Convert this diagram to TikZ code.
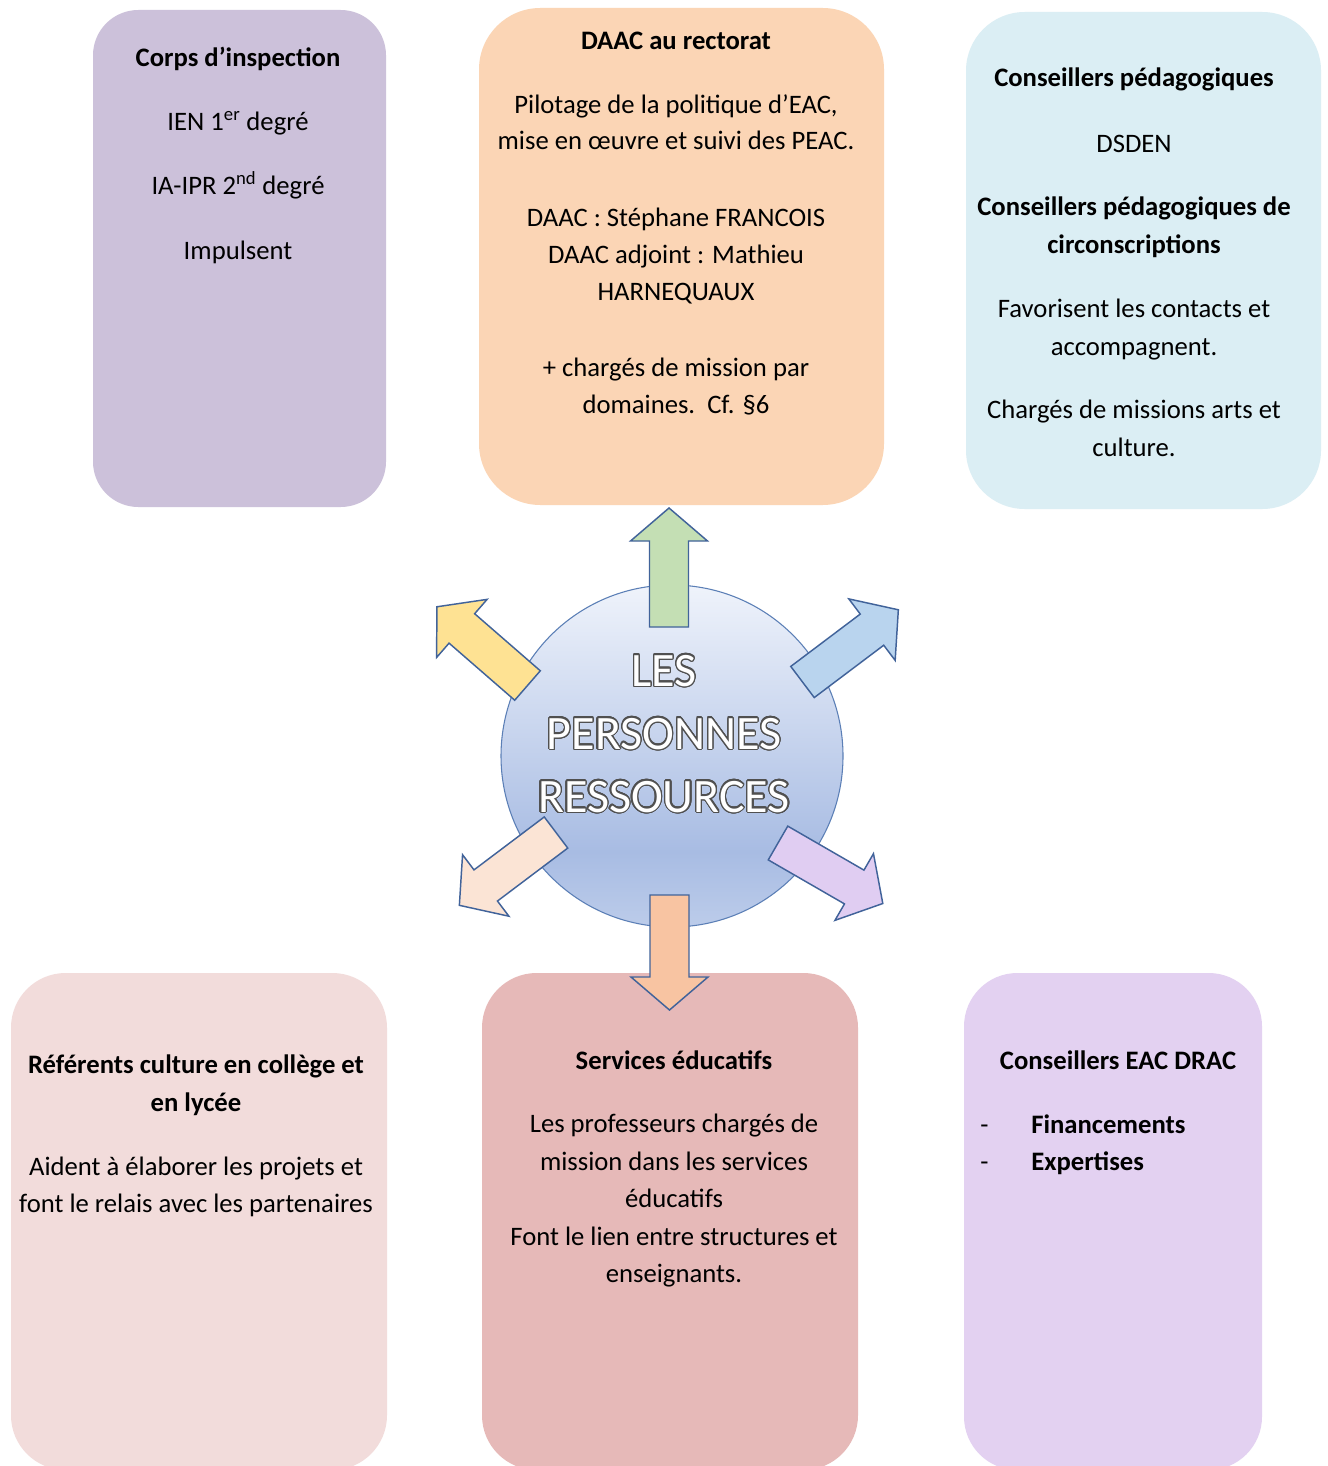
\documentclass[tikz,border=0pt]{standalone}
\usepackage{fontspec}
\setmainfont{Carlito}
\usepackage{contour}
\contourlength{0.9pt}
\contournumber{24}
\definecolor{cbA}{HTML}{CCC1DA}
\definecolor{cbB}{HTML}{FBD5B5}
\definecolor{cbC}{HTML}{DBEEF4}
\definecolor{cbD}{HTML}{F2DCDB}
\definecolor{cbE}{HTML}{E6B9B8}
\definecolor{cbF}{HTML}{E3D1F1}
\definecolor{ballTop}{HTML}{EFF3FB}
\definecolor{ballMid}{HTML}{A8BCE3}
\definecolor{ballBot}{HTML}{BCCCEA}
\definecolor{ballLine}{HTML}{5B7FB6}
\definecolor{arLine}{HTML}{41639A}
\definecolor{arGreen}{HTML}{C4DFB4}
\definecolor{arYellow}{HTML}{FEE293}
\definecolor{arBlue}{HTML}{B9D4EE}
\definecolor{arPeach}{HTML}{FBE4D5}
\definecolor{arPurple}{HTML}{E0CDF2}
\definecolor{arOrange}{HTML}{F8C4A2}
\definecolor{outl}{HTML}{505050}
\pgfdeclareverticalshading{ballsh}{100bp}{color(0bp)=(ballBot); color(25bp)=(ballBot); color(36bp)=(ballMid); color(75bp)=(ballTop); color(100bp)=(ballTop)}
\newcommand{\bigarrow}[4]{\draw[arrowst, fill=#4, shift={#1}, rotate=#2] (0,-19.5) -- (#3-33,-19.5) -- (#3-33,-38.5) -- (#3,0) -- (#3-33,38.5) -- (#3-33,19.5) -- (0,19.5) -- cycle;}
\begin{document}
\begin{tikzpicture}[x=0.75pt, y=-0.75pt,
  boxst/.style={draw=none, inner sep=0pt, rectangle},
  txt/.style={anchor=base, inner sep=0pt, font=\fontsize{20}{24}\selectfont},
  btxt/.style={txt, font=\fontsize{20}{24}\selectfont\bfseries},
  ltxt/.style={anchor=base west, inner sep=0pt, font=\fontsize{20}{24}\selectfont\bfseries},
  big/.style={anchor=base, inner sep=0pt, font=\fontsize{36}{40}\selectfont},
  arrowst/.style={draw=arLine, line width=1.1pt, line join=miter}]
\useasboundingbox (0,0) rectangle (1327,1466);
\fill[white] (0,0) rectangle (1327,1466);
\clip (0,0) rectangle (1327,1466);

% boxes
\node (b1) [boxst, fill=cbA, rounded corners=34pt, minimum width=219.75pt, minimum height=372.75pt] at (239.5,258.5) {};
\node (b2) [boxst, fill=cbB, rounded corners=46pt, minimum width=303.75pt, minimum height=372.75pt] at (681.5,256.5) {};
\node (b3) [boxst, fill=cbC, rounded corners=44pt, minimum width=266.25pt, minimum height=372.75pt] at (1143.5,260.5) {};
\node (b4) [boxst, fill=cbD, rounded corners=41pt, minimum width=282pt, minimum height=372.75pt] at (199,1221.5) {};
\node (b5) [boxst, fill=cbE, rounded corners=41pt, minimum width=282pt, minimum height=372.75pt] at (670,1221.5) {};
\node (b6) [boxst, fill=cbF, rounded corners=40pt, minimum width=223.5pt, minimum height=372.75pt] at (1113,1221.5) {};

% box 1 text
\node (t1a) [btxt] at (238,67) {Corps d’inspection};
\node (t1b) [txt] at (238,131) {IEN 1\textsuperscript{er} degré};
\node (t1c) [txt] at (238,195) {IA-IPR 2\textsuperscript{nd} degré};
\node (t1d) [txt] at (238,259) {Impulsent};

% box 2 text
\node (t2a) [btxt] at (676,50) {DAAC au rectorat};
\node (t2b) [txt] at (676,114) {Pilotage de la politique d’EAC,};
\node (t2c) [txt] at (676,150) {mise en œuvre et suivi des PEAC.};
\node (t2d) [txt] at (676,226) {DAAC : Stéphane FRANCOIS};
\node (t2e) [txt] at (676,263) {DAAC adjoint : Mathieu};
\node (t2f) [txt] at (676,300) {HARNEQUAUX};
\node (t2g) [txt] at (676,376) {+ chargés de mission par};
\node (t2h) [txt] at (676,413) {domaines.\ \ Cf. §6};

% box 3 text
\node (t3a) [btxt] at (1134,87) {Conseillers pédagogiques};
\node (t3b) [txt] at (1134,152) {DSDEN};
\node (t3c) [btxt] at (1134,215) {Conseillers pédagogiques de};
\node (t3d) [btxt] at (1134,253) {circonscriptions};
\node (t3e) [txt] at (1134,317) {Favorisent les contacts et};
\node (t3f) [txt] at (1134,355) {accompagnent.};
\node (t3g) [txt] at (1134,418) {Chargés de missions arts et};
\node (t3h) [txt] at (1134,456) {culture.};

% box 4 text
\node (t4a) [btxt] at (196,1073) {Référents culture en collège et};
\node (t4b) [btxt] at (196,1111) {en lycée};
\node (t4c) [txt] at (196,1175) {Aident à élaborer les projets et};
\node (t4d) [txt] at (196,1212) {font le relais avec les partenaires};

% box 5 text
\node (t5a) [btxt] at (674,1069) {Services éducatifs};
\node (t5b) [txt] at (674,1132) {Les professeurs chargés de};
\node (t5c) [txt] at (674,1170) {mission dans les services};
\node (t5d) [txt] at (674,1207) {éducatifs};
\node (t5e) [txt] at (674,1245) {Font le lien entre structures et};
\node (t5f) [txt] at (674,1282) {enseignants.};

% box 6 text
\node (t6a) [btxt] at (1118,1069) {Conseillers EAC DRAC};
\node (t6b) [ltxt, font=\fontsize{20}{24}\selectfont] at (980,1133) {-};
\node (t6c) [ltxt] at (1031,1133) {Financements};
\node (t6d) [ltxt, font=\fontsize{20}{24}\selectfont] at (980,1170) {-};
\node (t6e) [ltxt] at (1031,1170) {Expertises};

% central circle
\node (hub) [circle, draw=ballLine, line width=0.8pt, shading=ballsh, minimum size=256.5pt, inner sep=0pt] at (672,756) {};

% block arrows
\bigarrow{(669,627)}{90}{119}{arGreen}
\bigarrow{(669.5,895)}{-90}{115}{arOrange}
\bigarrow{(527.5,685.5)}{139}{120}{arYellow}
\bigarrow{(802.5,682)}{37}{120}{arBlue}
\bigarrow{(556,832.5)}{217}{121}{arPeach}
\bigarrow{(778,843)}{-30}{121}{arPurple}

% central text
\node (c1) [big] at (664,686) {\contour{outl}{\textcolor{white}{LES}}};
\node (c2) [big] at (664,749) {\contour{outl}{\textcolor{white}{PERSONNES}}};
\node (c3) [big] at (664,812) {\contour{outl}{\textcolor{white}{RESSOURCES}}};
\end{tikzpicture}
\end{document}
